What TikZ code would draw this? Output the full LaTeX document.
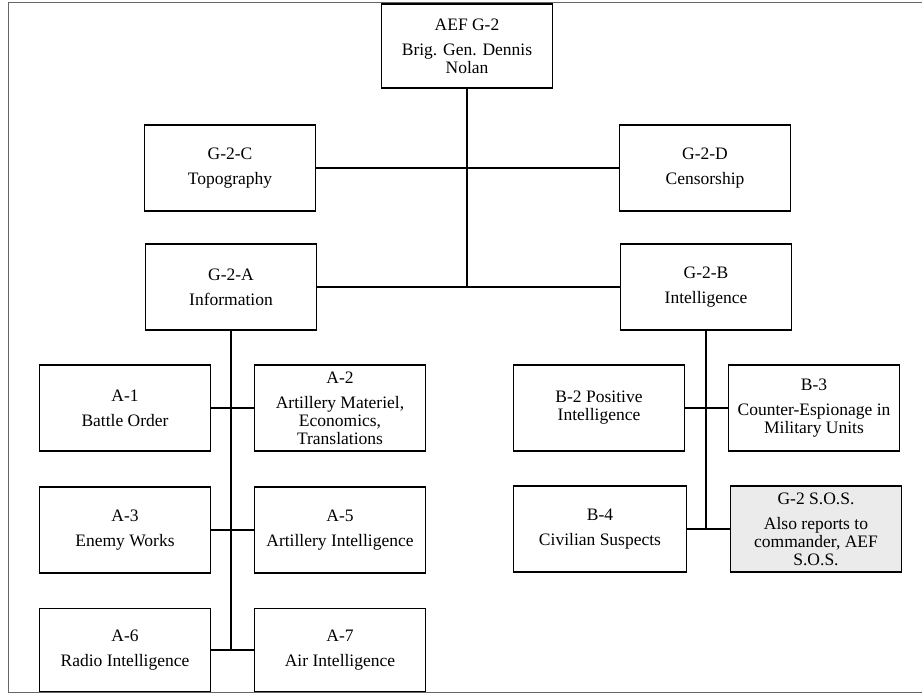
\documentclass[tikz,border=0pt]{standalone}
\usepackage{fontspec}
\setmainfont{Liberation Serif}
\tikzset{
  unit/.style={draw, rectangle, line width=1.9pt, minimum width=171pt,
    minimum height=86pt, inner sep=0pt, align=center,
    font=\fontsize{17.5}{18}\selectfont},
  shaded/.style={unit, fill=black!8}
}
\begin{document}
\begin{tikzpicture}[x=1pt, y=-1pt]
      \useasboundingbox (0,0) rectangle (922,695);
      \draw[black!60, line width=1pt] (922,3) -- (8,3) -- (8,692) -- (922,692);
      \draw
        (467,46) node[unit, minimum height=84pt] (G2){AEF G-2\\[7pt]Brig. Gen. Dennis\\Nolan}
        (230,168) node[unit] (G2C){G-2-C\\[7pt]Topography}
        (705,168) node[unit] (G2D){G-2-D\\[7pt]Censorship}
        (231,287) node[unit] (G2A){G-2-A\\[7pt]Information}
        (706,287) node[unit] (G2B){G-2-B\\[7pt]Intelligence}
        (125,408) node[unit] (A1){A-1\\[7pt]Battle Order}
        (340,408) node[unit] (A2){A-2\\[7pt]Artillery Materiel,\\Economics,\\Translations}
        (125,530) node[unit] (A3){A-3\\[7pt]Enemy Works}
        (340,530) node[unit] (A5){A-5\\[7pt]Artillery Intelligence}
        (125,650) node[unit, minimum height=83pt] (A6){A-6\\[7pt]Radio Intelligence}
        (340,650) node[unit, minimum height=83pt] (A7){A-7\\[7pt]Air Intelligence}
        (599,408) node[unit] (B2){B-2 Positive\\Intelligence}
        (814,408) node[unit] (B3){B-3\\[7pt]Counter-Espionage in\\Military Units}
        (600,529) node[unit, minimum width=173pt] (B4){B-4\\[7pt]Civilian Suspects}
        (816,529) node[shaded] (SOS){G-2 S.O.S.\\[7pt]Also reports to\\commander, AEF\\S.O.S.};
      \coordinate (hubAB) at (G2.south |- G2A.east);
      \coordinate (hubA) at (G2A.south |- A6.east);
      \coordinate (hubB) at (G2B.south |- B4.east);
      \begin{scope}[-, line width=1.9pt]
        \draw (G2) to (hubAB);
        \draw (G2C) to (G2D);
        \draw (G2A) to (G2B);
        \draw (G2A) to (hubA);
        \draw (A1) to (A2);
        \draw (A3) to (A5);
        \draw (A6) to (A7);
        \draw (G2B) to (hubB);
        \draw (B2) to (B3);
        \draw (B4) to (SOS);
      \end{scope}
    \end{tikzpicture}
\end{document}
